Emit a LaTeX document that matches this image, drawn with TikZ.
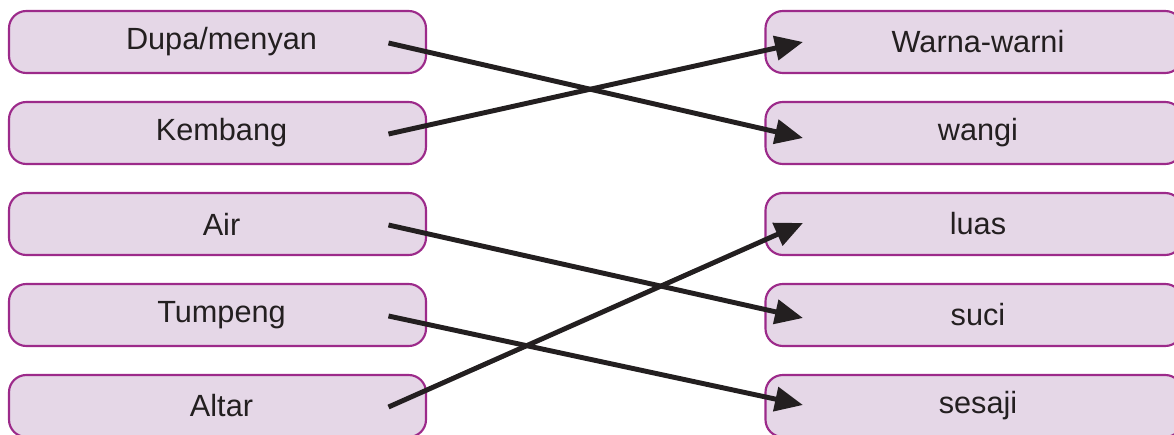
\documentclass[tikz,border=0pt]{standalone}
\usepackage{fontspec}
\setmainfont{Liberation Sans}
\usetikzlibrary{arrows.meta,calc}
\definecolor{boxfill}{HTML}{E5D7E7}
\definecolor{boxline}{HTML}{9C2A8A}
\definecolor{ink}{HTML}{231F20}
\tikzset{
  itembox/.style={draw=boxline, fill=boxfill, line width=1.6pt, rounded corners=13pt,
    minimum width=312.75pt, minimum height=46.5pt, inner sep=0pt,
    font=\fontsize{23}{27}\selectfont, text=ink,
    execute at begin node=\hspace*{6pt}},
  link/.style={draw=ink, line width=3.7pt, -{Triangle[length=21pt,width=18pt]}}
}
\begin{document}
\begin{tikzpicture}[x=0.75pt,y=-0.75pt]
\clip (0,0) rectangle (1174,435);
\node[itembox] (L1) at (217.5,42) {Dupa/menyan};
\node[itembox] (L2) at (217.5,133) {Kembang};
\node[itembox] (L3) at (217.5,224) {Air};
\node[itembox] (L4) at (217.5,315) {Tumpeng};
\node[itembox] (L5) at (217.5,406) {Altar};
\node[itembox] (R1) at (974,42) {Warna-warni};
\node[itembox] (R2) at (974,133) {wangi};
\node[itembox] (R3) at (974,224) {luas};
\node[itembox] (R4) at (974,315) {suci};
\node[itembox] (R5) at (974,406) {sesaji};
\draw[link] ($(L1.center)+(171,1)$) -- ($(R2.center)+(-171,5)$);
\draw[link] ($(L2.center)+(171,1)$) -- ($(R1.center)+(-171,0)$);
\draw[link] ($(L3.center)+(171,1)$) -- ($(R4.center)+(-171,3)$);
\draw[link] ($(L4.center)+(171,1)$) -- ($(R5.center)+(-171,-1)$);
\draw[link] ($(L5.center)+(171,1)$) -- ($(R3.center)+(-171,-1)$);
\end{tikzpicture}
\end{document}
